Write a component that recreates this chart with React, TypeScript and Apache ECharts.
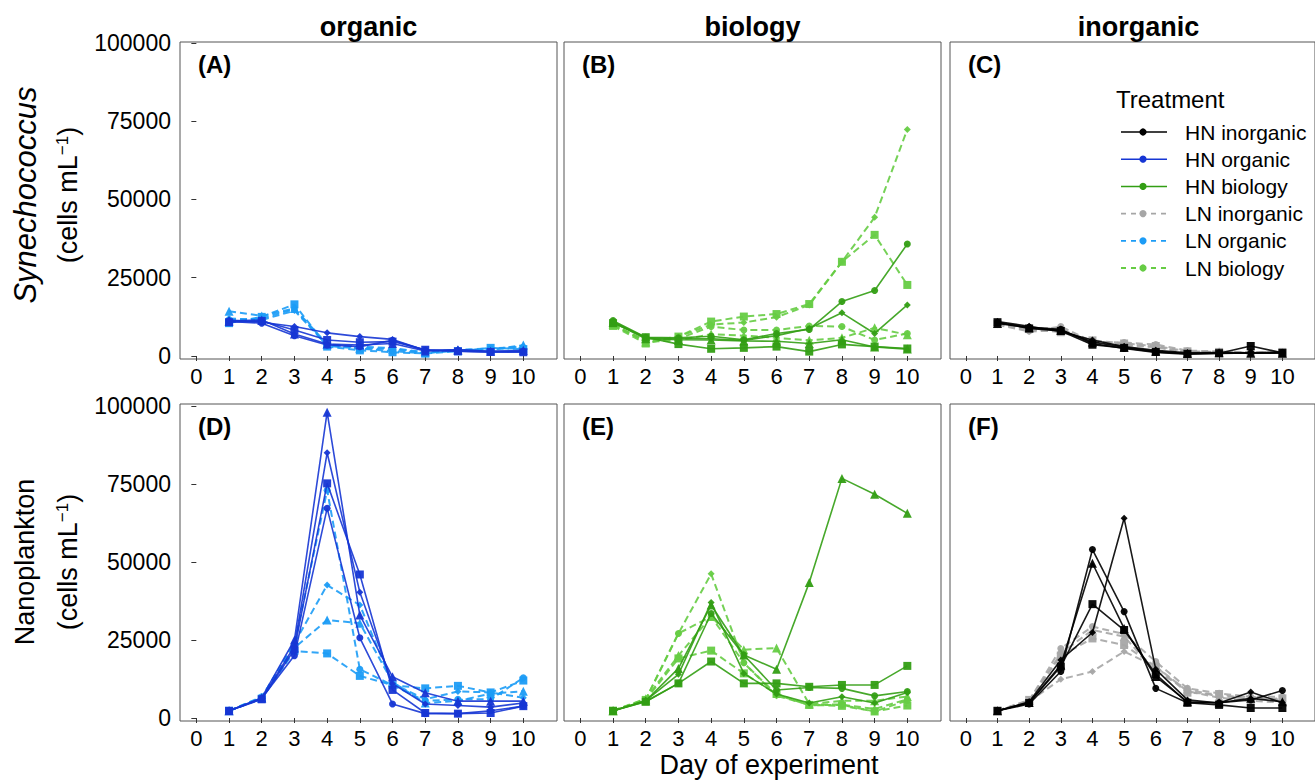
import React, { useEffect, useRef } from "react";
import * as echarts from "echarts";

// ---------------- DATA ----------------
const DAYS = [1, 2, 3, 4, 5, 6, 7, 8, 9, 10];
const X_TICKS = [0, 1, 2, 3, 4, 5, 6, 7, 8, 9, 10];
const Y_TICKS = [0, 25000, 50000, 75000, 100000];
const COLUMN_TITLES = ["organic", "biology", "inorganic"];
const PANEL_LABELS = ["(A)", "(B)", "(C)", "(D)", "(E)", "(F)"];
const ROW_TITLES = ["Synechococcus", "Nanoplankton"];
const X_TITLE = "Day of experiment";
const LEGEND_TITLE = "Treatment";
const TREATMENTS = ["HN inorganic", "HN organic", "HN biology", "LN inorganic", "LN organic", "LN biology"];

// Panel A: organic, Synechococcus
const A_HN_circle = [11000, 10500, 6500, 3500, 3000, 5000, 1800, 1500, 1200, 1500];
const A_HN_square = [10800, 11200, 8300, 5100, 4400, 4600, 2000, 1500, 1300, 1200];
const A_HN_triangle = [11200, 11500, 7000, 3800, 3500, 4000, 1600, 2000, 1500, 1800];
const A_HN_diamond = [11500, 10800, 9400, 7400, 6200, 5300, 1800, 2000, 1500, 1500];
const A_LN_circle = [11500, 12000, 15000, 3200, 2400, 1500, 900, 1800, 2200, 2600];
const A_LN_square = [10500, 12500, 16500, 3000, 1800, 1200, 800, 1500, 2600, 2200];
const A_LN_triangle = [14300, 12800, 15200, 3800, 2500, 2200, 1000, 1800, 2000, 3500];
const A_LN_diamond = [12000, 11500, 14500, 3500, 3000, 2500, 1200, 2000, 2400, 3000];

// Panel B: biology, Synechococcus
const B_HN_circle = [11300, 6000, 5800, 6300, 5200, 7200, 8500, 17400, 20900, 35800];
const B_HN_diamond = [11000, 5800, 5500, 5500, 5000, 6500, 8800, 13800, 7200, 16300];
const B_HN_triangle = [10800, 5500, 5200, 5100, 4800, 4700, 4000, 5200, 2900, 2200];
const B_HN_square = [10500, 6000, 3800, 2300, 2600, 3000, 1400, 3700, 3000, 2400];
const B_LN_diamond = [10000, 4600, 6200, 10000, 10700, 12400, 16300, 30100, 44300, 72400];
const B_LN_square = [9600, 4000, 6200, 11000, 12600, 13400, 16600, 30100, 38700, 22700];
const B_LN_circle = [9800, 5000, 5500, 9400, 8300, 8300, 9600, 9400, 5100, 7200];
const B_LN_triangle = [10200, 4500, 5000, 7000, 6500, 5800, 5000, 5800, 9000, 6800];

// Panel C: inorganic, Synechococcus
const C_HN_circle = [10600, 9200, 8500, 4000, 2400, 1100, 600, 800, 1000, 1100];
const C_HN_square = [10800, 8800, 8000, 3600, 2600, 1300, 700, 900, 3200, 1000];
const C_HN_triangle = [10400, 9000, 8200, 4500, 2800, 1500, 800, 1000, 900, 900];
const C_HN_diamond = [11000, 9500, 7800, 5100, 3000, 1800, 1000, 1100, 1000, 1200];
const C_LN_circle = [10500, 8000, 9400, 4600, 4300, 3700, 1700, 1500, 1200, 1000];
const C_LN_square = [10200, 8600, 7600, 5000, 4000, 3200, 1500, 1300, 1000, 1300];
const C_LN_triangle = [10800, 9000, 8800, 4200, 3800, 3000, 1200, 1200, 1100, 900];
const C_LN_diamond = [10000, 7800, 8200, 3800, 3500, 2800, 1000, 1000, 900, 1100];

// Panel D: organic, Nanoplankton
const D_HN_triangle = [2300, 6500, 25000, 98000, 33000, 13200, 8100, 5400, 5400, 5400];
const D_HN_diamond = [2300, 6200, 23000, 85000, 40300, 11000, 4500, 4000, 3500, 4800];
const D_HN_square = [2300, 6000, 22000, 75200, 46000, 9000, 1600, 1400, 1600, 3800];
const D_HN_circle = [2300, 6300, 20000, 67200, 25700, 4500, 1400, 1400, 2300, 3800];
const D_LN_circle = [2300, 6800, 23500, 73000, 15600, 10500, 5500, 6000, 6000, 12900];
const D_LN_diamond = [2300, 6600, 24000, 42600, 36200, 11000, 6000, 8500, 8200, 6500];
const D_LN_triangle = [2300, 6400, 22500, 31400, 30400, 11500, 4800, 5500, 7800, 8600];
const D_LN_square = [2300, 6200, 21500, 20700, 13500, 10500, 9500, 10300, 8200, 12000];

// Panel E: biology, Nanoplankton
const E_HN_triangle = [2300, 5500, 15900, 36200, 20200, 15600, 43400, 76800, 71700, 65600];
const E_HN_square = [2300, 5200, 11100, 18100, 11100, 11100, 10000, 10600, 10600, 16700];
const E_HN_circle = [2300, 5300, 11100, 33500, 20200, 9000, 9800, 9500, 7100, 8500];
const E_HN_diamond = [2300, 5600, 14000, 37000, 14300, 7700, 4800, 6800, 4800, 8200];
const E_LN_diamond = [2300, 6000, 27100, 46200, 17700, 7100, 4300, 4300, 2900, 6000];
const E_LN_triangle = [2300, 6200, 20000, 32500, 21900, 22400, 4500, 5500, 5500, 6900];
const E_LN_square = [2300, 5800, 19100, 21600, 14300, 7700, 4200, 3900, 2100, 4000];
const E_LN_circle = [2300, 5900, 27100, 32500, 17700, 7500, 4100, 4200, 2100, 5600];

// Panel F: inorganic, Nanoplankton
const F_HN_circle = [2300, 4500, 14900, 54000, 34100, 9500, 4900, 4900, 5800, 8800];
const F_HN_triangle = [2300, 5000, 17000, 49600, 28700, 13300, 5200, 4900, 6300, 5200];
const F_HN_square = [2300, 4800, 16500, 36500, 28200, 14000, 4900, 4200, 3200, 3200];
const F_HN_diamond = [2300, 5200, 18600, 27400, 64000, 15600, 5800, 4800, 8300, 4900];
const F_LN_circle = [2300, 5500, 22300, 29300, 26900, 18100, 9500, 7900, 6800, 6800];
const F_LN_square = [2300, 5800, 20000, 25500, 23400, 16500, 8100, 7700, 5800, 6300];
const F_LN_diamond = [2300, 5300, 12400, 14900, 21300, 16500, 8600, 6500, 5500, 5000];
const F_LN_triangle = [2300, 5600, 20700, 28200, 26100, 14900, 9300, 6800, 6800, 5800];

// ---------------- STYLE ----------------
const COLORS: Record<string, string> = {
  "HN inorganic": "#000000",
  "HN organic": "#1636d4",
  "HN biology": "#339e14",
  "LN inorganic": "#a6a6a6",
  "LN organic": "#1c9cf6",
  "LN biology": "#66cc44",
};
const FONT = "'Liberation Sans', Arial, Helvetica, sans-serif";
const SYMBOLS: Record<string, [string, number]> = {
  circle: ["circle", 7],
  square: ["rect", 8],
  triangle: ["triangle", 9],
  diamond: ["diamond", 7],
};

type Rep = { vals: number[]; shape: string; treat: string };
const PANELS: Rep[][] = [
  [
    { vals: A_LN_circle, shape: "circle", treat: "LN organic" },
    { vals: A_LN_square, shape: "square", treat: "LN organic" },
    { vals: A_LN_triangle, shape: "triangle", treat: "LN organic" },
    { vals: A_LN_diamond, shape: "diamond", treat: "LN organic" },
    { vals: A_HN_circle, shape: "circle", treat: "HN organic" },
    { vals: A_HN_square, shape: "square", treat: "HN organic" },
    { vals: A_HN_triangle, shape: "triangle", treat: "HN organic" },
    { vals: A_HN_diamond, shape: "diamond", treat: "HN organic" },
  ],
  [
    { vals: B_LN_circle, shape: "circle", treat: "LN biology" },
    { vals: B_LN_square, shape: "square", treat: "LN biology" },
    { vals: B_LN_triangle, shape: "triangle", treat: "LN biology" },
    { vals: B_LN_diamond, shape: "diamond", treat: "LN biology" },
    { vals: B_HN_circle, shape: "circle", treat: "HN biology" },
    { vals: B_HN_square, shape: "square", treat: "HN biology" },
    { vals: B_HN_triangle, shape: "triangle", treat: "HN biology" },
    { vals: B_HN_diamond, shape: "diamond", treat: "HN biology" },
  ],
  [
    { vals: C_LN_circle, shape: "circle", treat: "LN inorganic" },
    { vals: C_LN_square, shape: "square", treat: "LN inorganic" },
    { vals: C_LN_triangle, shape: "triangle", treat: "LN inorganic" },
    { vals: C_LN_diamond, shape: "diamond", treat: "LN inorganic" },
    { vals: C_HN_circle, shape: "circle", treat: "HN inorganic" },
    { vals: C_HN_square, shape: "square", treat: "HN inorganic" },
    { vals: C_HN_triangle, shape: "triangle", treat: "HN inorganic" },
    { vals: C_HN_diamond, shape: "diamond", treat: "HN inorganic" },
  ],
  [
    { vals: D_LN_circle, shape: "circle", treat: "LN organic" },
    { vals: D_LN_square, shape: "square", treat: "LN organic" },
    { vals: D_LN_triangle, shape: "triangle", treat: "LN organic" },
    { vals: D_LN_diamond, shape: "diamond", treat: "LN organic" },
    { vals: D_HN_circle, shape: "circle", treat: "HN organic" },
    { vals: D_HN_square, shape: "square", treat: "HN organic" },
    { vals: D_HN_triangle, shape: "triangle", treat: "HN organic" },
    { vals: D_HN_diamond, shape: "diamond", treat: "HN organic" },
  ],
  [
    { vals: E_LN_circle, shape: "circle", treat: "LN biology" },
    { vals: E_LN_square, shape: "square", treat: "LN biology" },
    { vals: E_LN_triangle, shape: "triangle", treat: "LN biology" },
    { vals: E_LN_diamond, shape: "diamond", treat: "LN biology" },
    { vals: E_HN_circle, shape: "circle", treat: "HN biology" },
    { vals: E_HN_square, shape: "square", treat: "HN biology" },
    { vals: E_HN_triangle, shape: "triangle", treat: "HN biology" },
    { vals: E_HN_diamond, shape: "diamond", treat: "HN biology" },
  ],
  [
    { vals: F_LN_circle, shape: "circle", treat: "LN inorganic" },
    { vals: F_LN_square, shape: "square", treat: "LN inorganic" },
    { vals: F_LN_triangle, shape: "triangle", treat: "LN inorganic" },
    { vals: F_LN_diamond, shape: "diamond", treat: "LN inorganic" },
    { vals: F_HN_circle, shape: "circle", treat: "HN inorganic" },
    { vals: F_HN_square, shape: "square", treat: "HN inorganic" },
    { vals: F_HN_triangle, shape: "triangle", treat: "HN inorganic" },
    { vals: F_HN_diamond, shape: "diamond", treat: "HN inorganic" },
  ],
];

const COL_LEFT = [180, 564, 950];
const PANEL_W = 377;
const ROW_TOP = [42, 404];
const PANEL_H = 317;

function buildOption() {
  const grid: any[] = [];
  const xAxis: any[] = [];
  const yAxis: any[] = [];
  const series: any[] = [];
  const graphic: any[] = [];

  for (let p = 0; p < 6; p++) {
    const r = Math.floor(p / 3);
    const c = p % 3;
    grid.push({
      left: COL_LEFT[c],
      top: ROW_TOP[r],
      width: PANEL_W,
      height: PANEL_H,
      show: true,
      borderColor: "#555",
      borderWidth: 1,
      backgroundColor: "#fff",
    });
    xAxis.push({
      type: "value",
      gridIndex: p,
      min: -0.5,
      max: 11.03,
      axisLine: { show: false },
      splitLine: { show: false },
      axisTick: { show: true, customValues: X_TICKS, length: 5, lineStyle: { color: "#333", width: 1 } },
      axisLabel: {
        show: true,
        customValues: X_TICKS,
        fontSize: 22,
        color: "#000",
        fontFamily: FONT,
        margin: 6,
        formatter: (v: number) => String(v),
      },
    });
    yAxis.push({
      type: "value",
      gridIndex: p,
      min: -960,
      max: r === 0 ? 100320 : 100640,
      axisLine: { show: false },
      splitLine: { show: false },
      axisTick: { show: c === 0, customValues: Y_TICKS, length: 5, lineStyle: { color: "#333", width: 1 } },
      axisLabel: {
        show: c === 0,
        customValues: Y_TICKS,
        fontSize: 23,
        color: "#000",
        fontFamily: FONT,
        margin: 9,
        formatter: (v: number) => String(v),
      },
    });
    PANELS[p].forEach((rep) => {
      const dashed = rep.treat.startsWith("LN");
      const color = COLORS[rep.treat];
      const [sym, size] = SYMBOLS[rep.shape];
      series.push({
        type: "line",
        xAxisIndex: p,
        yAxisIndex: p,
        data: DAYS.map((d, i) => [d, rep.vals[i]]),
        symbol: sym,
        symbolSize: size,
        showSymbol: true,
        silent: true,
        z: dashed ? 2 : 3,
        lineStyle: { color, width: dashed ? 2 : 1.6, type: dashed ? [7, 4] : "solid", opacity: 0.9 },
        itemStyle: { color, opacity: 0.95 },
        emphasis: { disabled: true },
      });
    });
    graphic.push({
      type: "text",
      x: COL_LEFT[c] + 18,
      y: ROW_TOP[r] + 10,
      style: { text: PANEL_LABELS[p], fontSize: 24, fontWeight: "bold", fontFamily: FONT, fill: "#000", align: "left", verticalAlign: "top" },
      z: 10,
    });
  }

  COLUMN_TITLES.forEach((t, c) => {
    graphic.push({
      type: "text",
      x: COL_LEFT[c] + PANEL_W / 2,
      y: 27,
      style: { text: t, fontSize: 27, fontWeight: "bold", fontFamily: FONT, fill: "#000", align: "center", verticalAlign: "middle" },
    });
  });

  // row (y axis) titles
  const rowCenters = [195, 562];
  ROW_TITLES.forEach((t, r) => {
    graphic.push({
      type: "text",
      x: 25,
      y: rowCenters[r],
      rotation: Math.PI / 2,
      style: {
        text: t,
        fontSize: r === 0 ? 31 : 27,
        fontStyle: r === 0 ? "italic" : "normal",
        fontFamily: FONT,
        fill: "#000",
        align: "center",
        verticalAlign: "middle",
      },
    });
    graphic.push({
      type: "text",
      x: 68,
      y: rowCenters[r],
      rotation: Math.PI / 2,
      style: {
        text: "(cells mL{sup|−1})",
        fontSize: 27,
        fontFamily: FONT,
        fill: "#000",
        align: "center",
        verticalAlign: "middle",
        rich: { sup: { fontSize: 17, fontFamily: FONT, fill: "#000", verticalAlign: "top", padding: [0, 0, 12, 0] } },
      },
    });
  });

  graphic.push({
    type: "text",
    x: 769,
    y: 765,
    style: { text: X_TITLE, fontSize: 27, fontFamily: FONT, fill: "#000", align: "center", verticalAlign: "middle" },
  });

  // legend
  graphic.push({
    type: "text",
    x: 1116,
    y: 99,
    style: { text: LEGEND_TITLE, fontSize: 24, fontFamily: FONT, fill: "#000", align: "left", verticalAlign: "middle" },
    z: 20,
  });
  TREATMENTS.forEach((t, i) => {
    const y = 132 + i * 27.2;
    const dashed = t.startsWith("LN");
    const color = COLORS[t];
    graphic.push({
      type: "line",
      shape: { x1: 1121, y1: y, x2: 1167, y2: y },
      style: { stroke: color, lineWidth: dashed ? 1.8 : 1.5, lineDash: dashed ? [5, 5] : null },
      z: 20,
    });
    graphic.push({ type: "circle", shape: { cx: 1143, cy: y, r: 3.6 }, style: { fill: color }, z: 21 });
    graphic.push({
      type: "text",
      x: 1185,
      y,
      style: { text: t, fontSize: 21, fontFamily: FONT, fill: "#000", align: "left", verticalAlign: "middle" },
      z: 20,
    });
  });

  return {
    animation: false,
    backgroundColor: "#fff",
    grid,
    xAxis,
    yAxis,
    series,
    graphic,
  };
}

export default function App() {
  const ref = useRef<HTMLDivElement>(null);
  useEffect(() => {
    if (!ref.current) return;
    const chart = echarts.init(ref.current, null, { renderer: "svg" });
    chart.setOption(buildOption());
    return () => chart.dispose();
  }, []);
  return <div ref={ref} style={{ position: "absolute", left: 0, top: 0, width: 1315, height: 780 }} />;
}
